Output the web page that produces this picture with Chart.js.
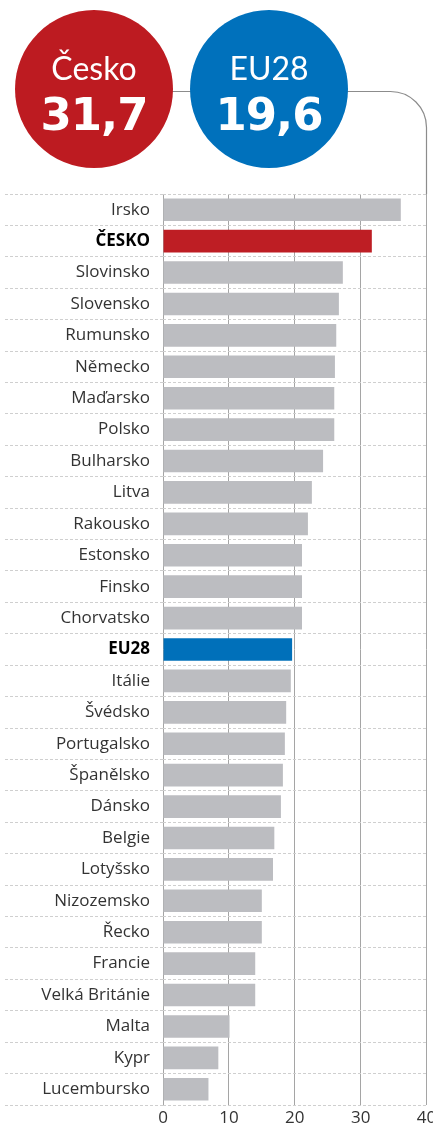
<!DOCTYPE html>
<html lang="cs">
<head>
<meta charset="utf-8">
<title>Česko vs EU28</title>
<script src="https://cdn.jsdelivr.net/npm/chart.js@4.4.1/dist/chart.umd.min.js"></script>
<style>
  html, body { margin: 0; padding: 0; background: #fff; overflow: hidden; }
  #wrap { position: relative; width: 433px; height: 1131px; }
  #chart { position: absolute; left: 0; top: 0; }
  .bubble {
    position: absolute; top: 10px; width: 158px; height: 158px;
    border-radius: 50%; color: #fff; text-align: center;
  }
  .bubble .name {
    position: absolute; left: 0; right: 0; top: 42px;
    font: 400 32px/32px Lato, sans-serif;
  }
  .bubble .num {
    position: absolute; left: 0; right: 0; top: 82px;
    font: 700 45px/45px "DejaVu Sans", sans-serif; letter-spacing: -1px;
  }
  #cz { left: 15px; background: #bd1b21; }
  #eu { left: 190px; background: #0071bc; }
</style>
</head>
<body>
<div id="wrap">
  <canvas id="chart" width="433" height="1131"></canvas>
  <div class="bubble" id="cz"><span class="name">Česko</span><span class="num">31,7</span></div>
  <div class="bubble" id="eu"><span class="name">EU28</span><span class="num">19,6</span></div>
</div>
<script>
// Kategorie (země) a hodnoty
const zeme = ['Irsko', 'ČESKO', 'Slovinsko', 'Slovensko', 'Rumunsko', 'Německo', 'Maďarsko',
  'Polsko', 'Bulharsko', 'Litva', 'Rakousko', 'Estonsko', 'Finsko', 'Chorvatsko', 'EU28',
  'Itálie', 'Švédsko', 'Portugalsko', 'Španělsko', 'Dánsko', 'Belgie', 'Lotyšsko',
  'Nizozemsko', 'Řecko', 'Francie', 'Velká Británie', 'Malta', 'Kypr', 'Lucembursko'];
const hodnoty = [36.1, 31.7, 27.3, 26.7, 26.3, 26.1, 26.0,
  26.0, 24.3, 22.6, 22.0, 21.1, 21.1, 21.1, 19.6,
  19.4, 18.7, 18.5, 18.2, 17.9, 16.9, 16.7,
  15.0, 15.0, 14.0, 14.0, 10.1, 8.4, 6.9];
// Zvýrazněné kategorie
const zvyrazneni = ['ČESKO', 'EU28'];
// Popisky osy x
const osaX = [0, 10, 20, 30, 40];

const barvy = zeme.map(z => z === 'ČESKO' ? '#be1e24' : (z === 'EU28' ? '#0070ba' : '#bcbdc1'));

// Linka za bublinami, napojená na mřížku hodnoty 40
const linkaPlugin = {
  id: 'linka',
  beforeDraw(chart) {
    const ctx = chart.ctx;
    const x40 = chart.scales.x.getPixelForValue(osaX[osaX.length - 1]);
    const y = 91.5, r = 36;
    ctx.save();
    ctx.strokeStyle = '#8c8c8c';
    ctx.lineWidth = 1.2;
    ctx.beginPath();
    ctx.moveTo(94, y);
    ctx.lineTo(x40 - r, y);
    ctx.arcTo(x40, y, x40, y + r, r);
    ctx.lineTo(x40, chart.chartArea.top);
    ctx.stroke();
    ctx.restore();
  }
};

new Chart(document.getElementById('chart'), {
  type: 'bar',
  data: {
    labels: zeme,
    datasets: [{
      data: hodnoty,
      backgroundColor: barvy,
      barPercentage: 0.72,
      categoryPercentage: 1
    }]
  },
  options: {
    indexAxis: 'y',
    responsive: false,
    animation: false,
    layout: { padding: { top: 194, right: 6.5, bottom: 0, left: 0 } },
    plugins: {
      legend: { display: false },
      tooltip: { enabled: false }
    },
    scales: {
      x: {
        min: 0,
        max: 40,
        afterBuildTicks: scale => { scale.ticks = osaX.map(v => ({ value: v })); },
        grid: { color: '#a5a5a5', lineWidth: 1, drawTicks: false },
        border: { display: false },
        ticks: {
          color: '#333',
          padding: 3,
          font: { family: "'Open Sans'", size: 17 }
        },
        afterFit: scale => {
          scale.height = 26;
          scale.paddingRight = 0;
          scale.paddingLeft = 0;
        }
      },
      y: {
        grid: {
          offset: true,
          color: '#cfcfcf',
          lineWidth: 1,
          tickLength: 158,
          tickColor: '#cfcfcf',
          tickBorderDash: [3, 2]
        },
        border: { display: false, dash: [3, 2] },
        ticks: {
          padding: -145,
          autoSkip: false,
          color: c => zvyrazneni.includes(zeme[c.index]) ? '#000' : '#333',
          font: c => ({
            family: "'Open Sans'",
            size: 17,
            weight: zvyrazneni.includes(zeme[c.index]) ? 'bold' : 'normal'
          })
        },
        afterFit: scale => { scale.width = 163; }
      }
    }
  },
  plugins: [linkaPlugin]
});
</script>
</body>
</html>
